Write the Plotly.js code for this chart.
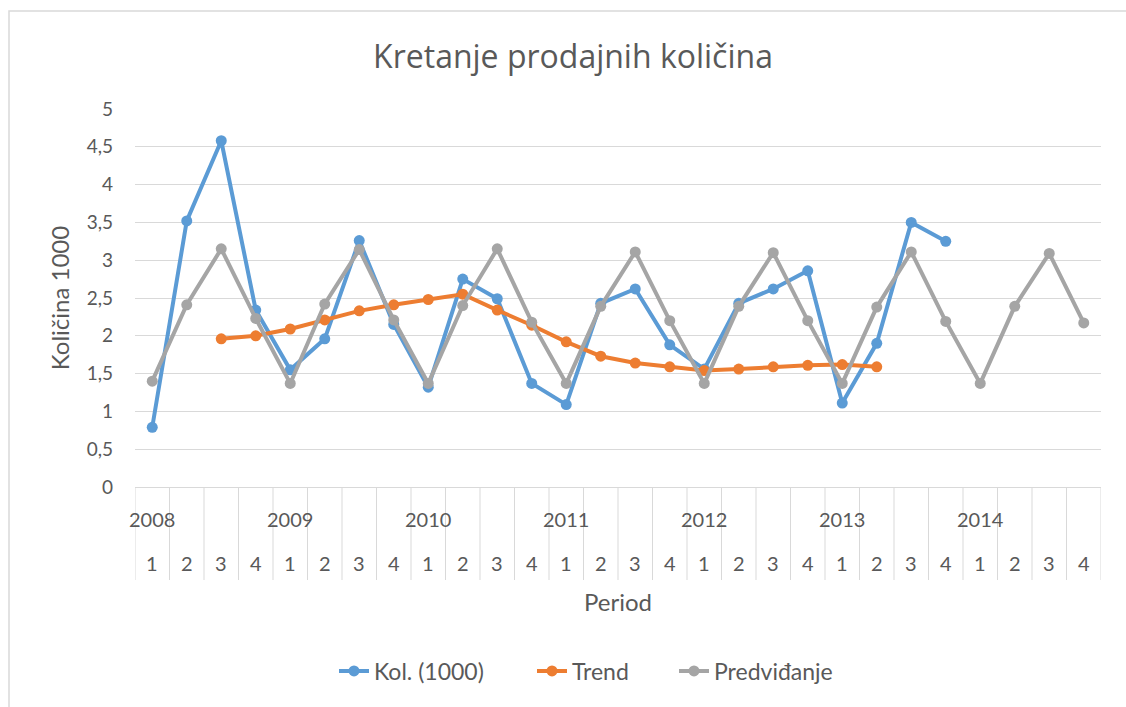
<!DOCTYPE html>
<html>
<head>
<meta charset="utf-8">
<script src="https://cdn.plot.ly/plotly-3.0.1.min.js"></script>
<style>html,body{margin:0;padding:0;background:#fff;}#chart{width:1126px;height:707px;}</style>
</head>
<body>
<div id="chart"></div>
<script>
const years = ["2008","2009","2010","2011","2012","2013","2014"];
const quarters = ["1","2","3","4"];
const seriesNames = ["Kol. (1000)", "Trend", "Predviđanje"];
const kolicina = [0.79,3.52,4.58,2.34,1.55,1.96,3.26,2.15,1.32,2.75,2.49,1.37,1.09,2.43,2.62,1.88,1.56,2.43,2.62,2.86,1.11,1.90,3.50,3.25,null,null,null,null];
const trend = [null,null,1.96,2.00,2.09,2.21,2.33,2.41,2.48,2.55,2.34,2.14,1.92,1.73,1.64,1.59,1.54,1.56,1.59,1.61,1.62,1.59,null,null,null,null,null,null];
const predvidjanje = [1.40,2.41,3.15,2.23,1.37,2.42,3.14,2.21,1.37,2.40,3.15,2.18,1.37,2.39,3.11,2.20,1.37,2.39,3.10,2.20,1.37,2.38,3.11,2.19,1.37,2.39,3.09,2.17];

const n = years.length * quarters.length;
const xs = [];
const yearOf = [], quarterOf = [];
years.forEach(y => quarters.forEach(q => { xs.push(xs.length); yearOf.push(y); quarterOf.push(q); }));

const FONT = "Lato, 'Open Sans', sans-serif";
const TFONT = "'Open Sans', Lato, sans-serif";
const TXT = "#595959";

const L = 135, R = 25, T = 109, B = 220;
const W = 1126, H = 707;
const pw = W - L - R, ph = H - T - B;
const px2x = p => (p - L) / pw;
const py2y = p => (H - B - p) / ph;

function tr(name, y, color, leg) {
  return {
    x: xs, y: y, name: name, type: 'scatter', mode: 'lines+markers',
    line: {color: color, width: 4},
    marker: {color: color, size: 11},
    connectgaps: false, cliponaxis: false, legend: leg
  };
}
const data = [
  tr(seriesNames[0], kolicina, "#5b9bd5", 'legend'),
  tr(seriesNames[1], trend, "#ed7d31", 'legend2'),
  tr(seriesNames[2], predvidjanje, "#a5a5a5", 'legend3')
];

const shapes = [];
for (let i = 0; i <= n; i++) {
  shapes.push({type: 'line', xref: 'x', yref: 'paper', x0: i - 0.5, x1: i - 0.5,
    y0: 0, y1: py2y(580), line: {color: '#d9d9d9', width: 1}});
}
shapes.push({type: 'rect', xref: 'paper', yref: 'paper', x0: px2x(9), x1: px2x(1140),
  y0: py2y(720), y1: py2y(11), line: {color: '#d9d9d9', width: 1.5}, fillcolor: 'rgba(0,0,0,0)', layer: 'below'});

const annotations = [];
xs.forEach(i => {
  annotations.push({x: i, xref: 'x', y: py2y(563), yref: 'paper', yanchor: 'middle', text: quarterOf[i],
    showarrow: false, font: {family: FONT, size: 20, color: TXT}});
  if (quarterOf[i] === quarters[0]) {
    annotations.push({x: i, xref: 'x', y: py2y(519), yref: 'paper', yanchor: 'middle', text: yearOf[i],
      showarrow: false, font: {family: FONT, size: 20, color: TXT}});
  }
});

function leg(textStartPx) {
  return {orientation: 'h', x: px2x(textStartPx - 42), xanchor: 'left', y: py2y(671), yanchor: 'middle',
    font: {family: FONT, size: 23, color: TXT}, bgcolor: 'rgba(0,0,0,0)', borderwidth: 0};
}

const layout = {
  width: W, height: H,
  margin: {l: L, r: R, t: T, b: B},
  paper_bgcolor: '#fff', plot_bgcolor: '#fff',
  separators: ', ',
  font: {family: FONT, color: TXT},
  title: {text: "Kretanje prodajnih količina", font: {family: TFONT, size: 32, color: TXT},
    x: 573 / W, xref: 'container', xanchor: 'center', y: 1 - (57 / H), yanchor: 'middle'},
  xaxis: {range: [-0.5, n - 0.5], showticklabels: false, showgrid: false, zeroline: false,
    showline: false, ticks: '', fixedrange: true,
    title: {text: "Period", font: {family: FONT, size: 24, color: TXT}, standoff: 107}},
  yaxis: {range: [0, 5], dtick: 0.5, tick0: 0, showgrid: true, gridcolor: '#d9d9d9', gridwidth: 1,
    zeroline: true, zerolinecolor: '#d9d9d9', zerolinewidth: 1, showline: false, ticks: '',
    tickfont: {family: FONT, size: 19, color: TXT}, ticklabelstandoff: 21,
    title: {text: "Količina 1000", font: {family: FONT, size: 24, color: TXT}, standoff: 10}},
  showlegend: true,
  legend: leg(376),
  legend2: leg(574),
  legend3: leg(716),
  shapes: shapes,
  annotations: annotations
};

Plotly.newPlot('chart', data, layout, {displayModeBar: false, staticPlot: true});
</script>
</body>
</html>
